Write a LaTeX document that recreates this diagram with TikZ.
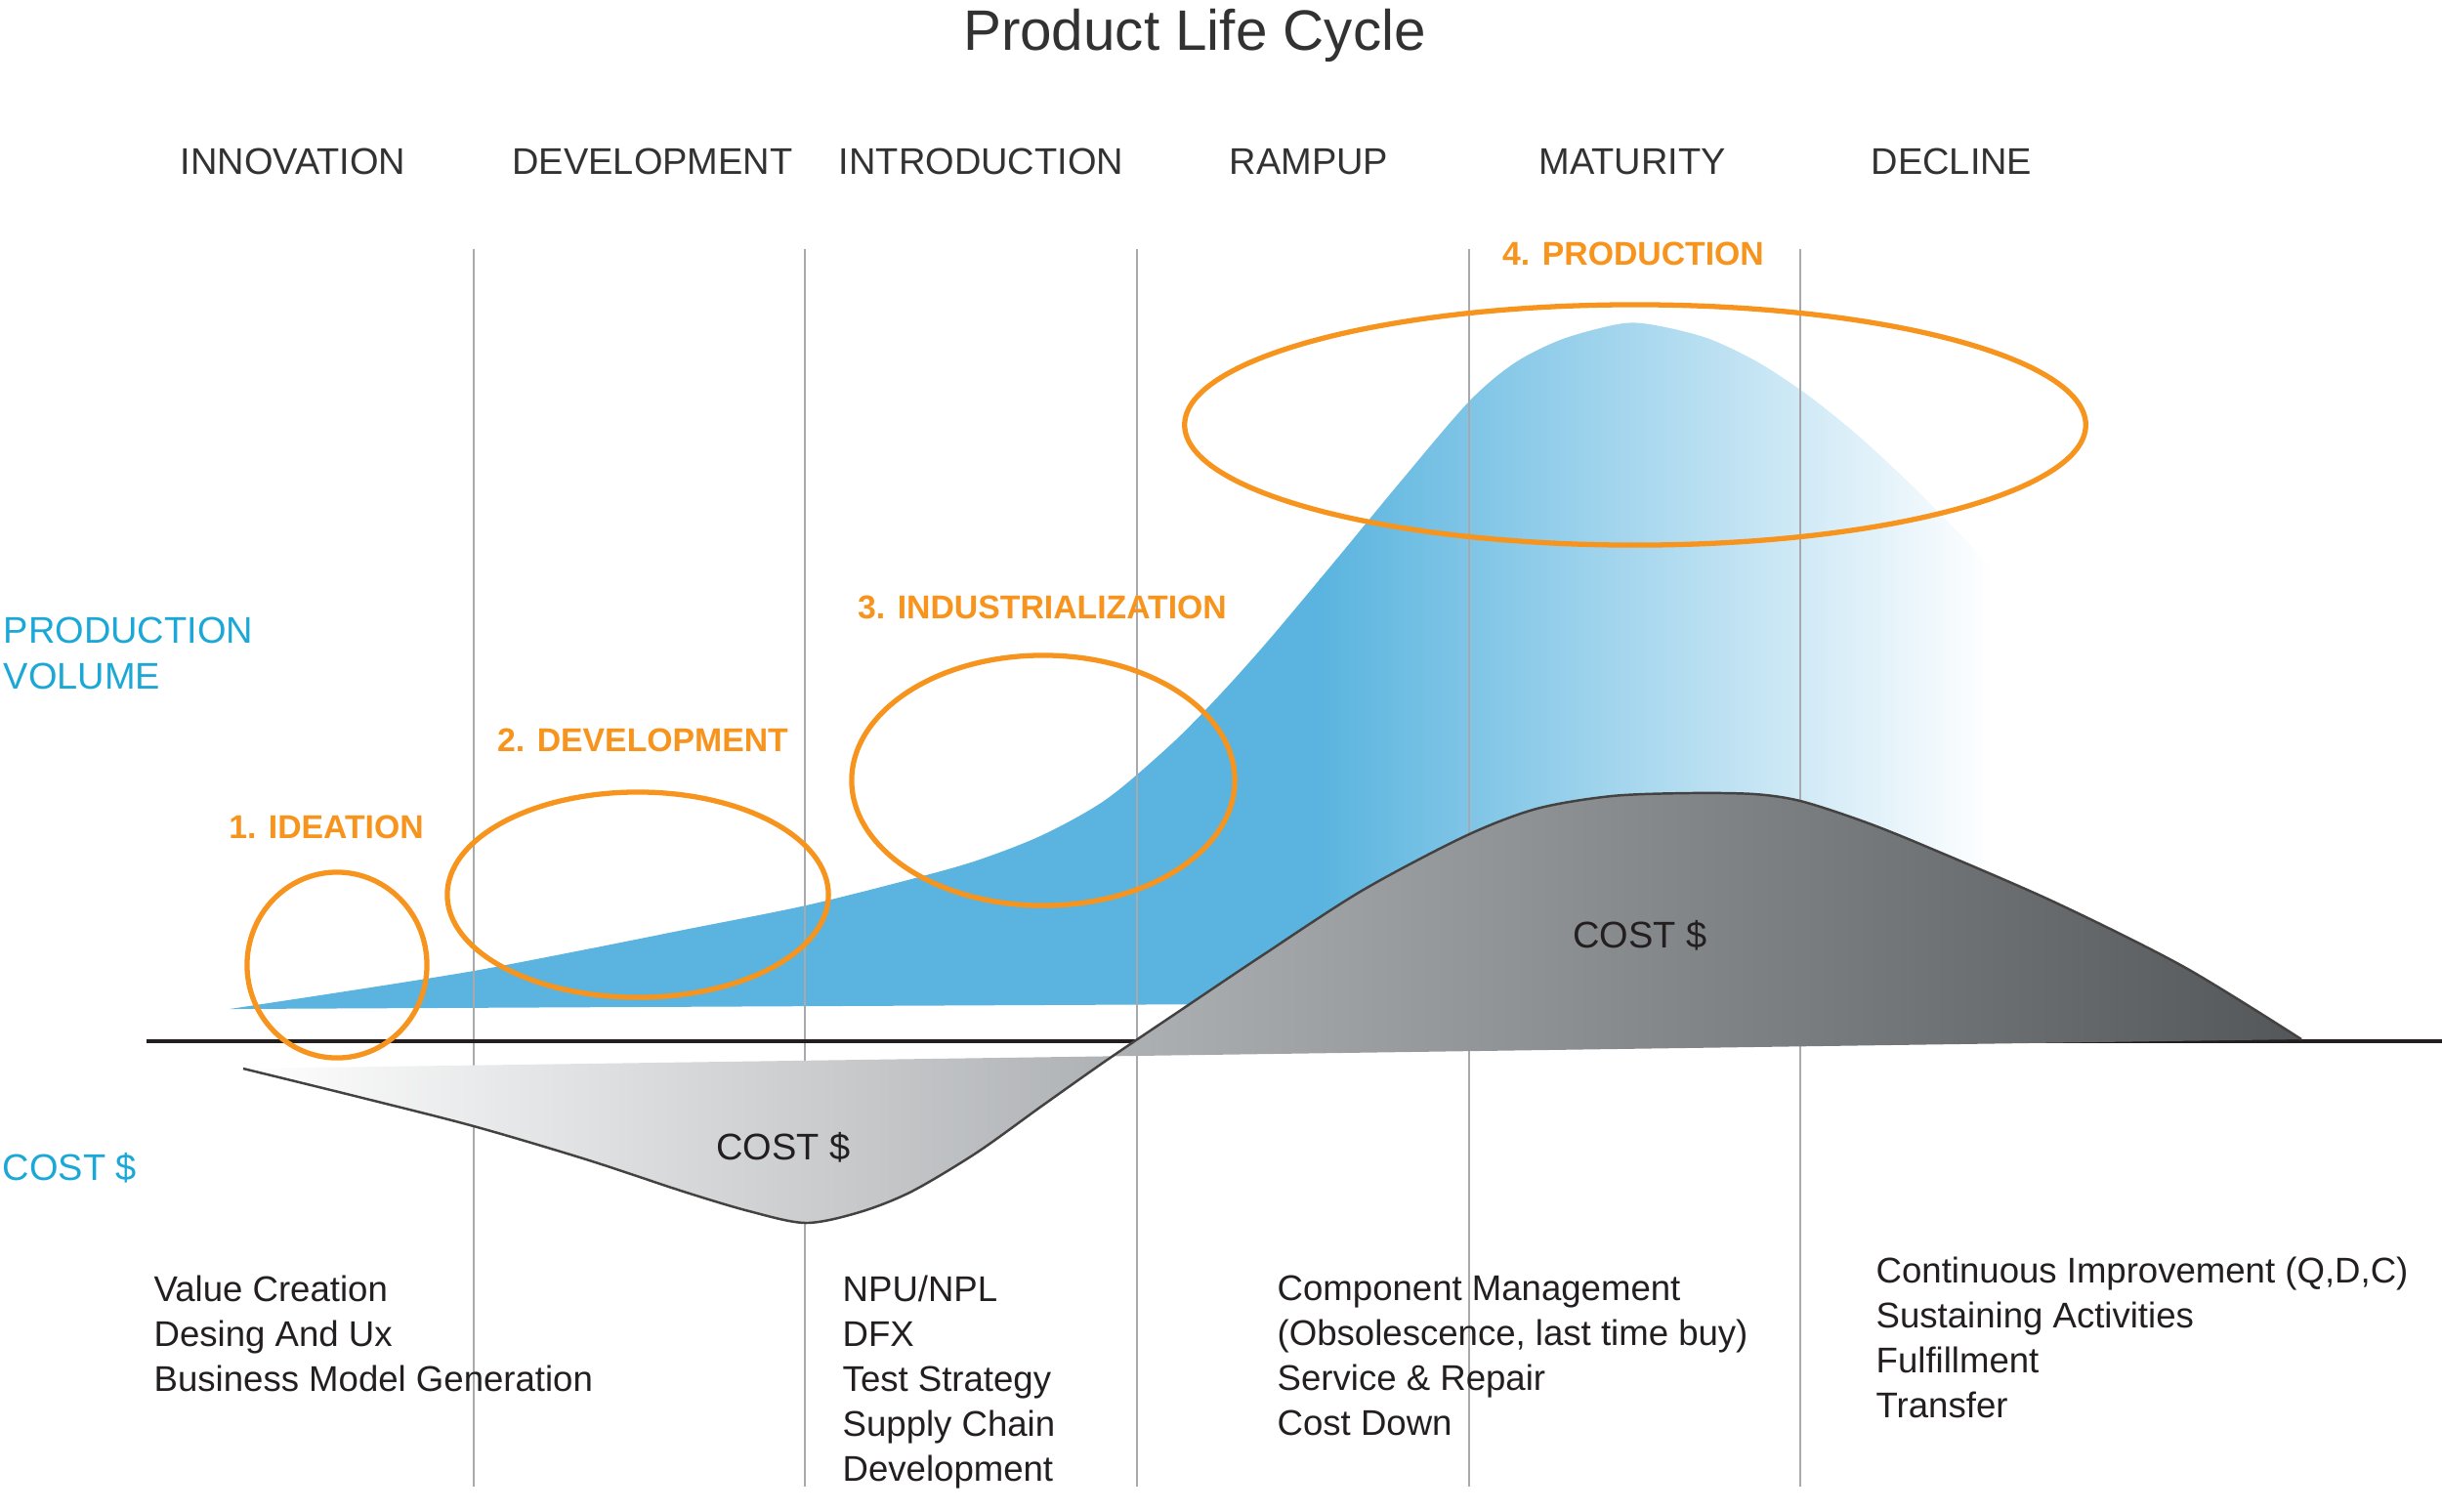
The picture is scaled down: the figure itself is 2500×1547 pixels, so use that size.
\documentclass[tikz,border=0pt]{standalone}
\usepackage{fontspec}
\setmainfont{Liberation Sans}
\definecolor{volblue}{RGB}{90,180,223}
\definecolor{costmid}{RGB}{173,176,179}
\definecolor{costdark}{RGB}{84,87,90}
\definecolor{ringorange}{RGB}{247,148,30}
\definecolor{labelblue}{RGB}{27,168,214}
\definecolor{textdark}{RGB}{35,31,32}
\definecolor{phasegray}{RGB}{50,50,50}
\definecolor{dividergray}{RGB}{167,169,172}
\tikzset{
  title/.style={font=\fontsize{16.6}{20}\selectfont, text=phasegray, anchor=base, inner sep=0pt},
  phase/.style={font=\fontsize{10.8}{13}\selectfont, text=phasegray, anchor=base, inner sep=0pt},
  stage/.style={font=\fontsize{9.6}{12}\selectfont\bfseries, text=ringorange, anchor=base, inner sep=0pt},
  axislabel/.style={font=\fontsize{10.8}{13.4}\selectfont, text=labelblue, align=left, anchor=north west, inner sep=0pt},
  note/.style={font=\fontsize{10.4}{13.1}\selectfont, text=textdark, align=left, anchor=north west, inner sep=0pt},
  costlabel/.style={font=\fontsize{10.8}{13}\selectfont, text=textdark, anchor=base, inner sep=0pt},
  ring/.style={draw=ringorange, line width=1.5pt},
  divider/.style={draw=dividergray, line width=0.45pt},
  costline/.style={draw=textdark!85, line width=0.7pt}
}
\begin{document}
\begin{tikzpicture}[x=0.01cm,y=-0.01cm]
  \useasboundingbox (0,0) rectangle (2500,1547);
  % production volume
  \begin{scope}
    \clip plot[smooth,tension=0.5] coordinates {(235,1033) (360,1014) (485,994) (600,972)
      (700,952) (825,927) (933,900) (1000,881) (1067,855) (1133,818) (1200,761) (1250,710)
      (1300,654) (1367,574) (1433,494) (1503,412) (1550,372) (1600,347) (1662,331) (1700,334)
      (1750,347) (1800,371) (1850,404) (1900,444) (1950,490) (2000,540) (2050,592) (2100,645)}
      -- (2100,1024) -- cycle;
    \fill[volblue] (200,200) rectangle (1352,1100);
    \shade[left color=volblue,right color=white] (1350,200) rectangle (2040,1100);
  \end{scope}
  \foreach \x in {485,824,1164,1504,1843}
    \draw[divider] (\x,255) -- (\x,1522);
  \draw[textdark, line width=1.25pt] (150,1066) -- (2500,1066);
  % cost
  \begin{scope}
    \clip plot[smooth,tension=0.5] coordinates {(249,1094) (367,1123) (485,1153) (600,1187)
      (700,1220) (767,1240) (825,1252) (880,1241) (933,1220) (1000,1180) (1067,1132)
      (1135,1084) (1215,1030) (1291,979) (1394,912) (1500,856) (1573,828) (1650,815)
      (1729,812) (1796,813) (1843,820) (1905,840) (1968,865) (2102,923) (2236,990) (2356,1064)}
      -- cycle;
    \shade[left color=white,right color=costmid] (249,780) rectangle (1159,1260);
    \shade[left color=costmid,right color=costdark] (1157,780) rectangle (2356,1260);
  \end{scope}
  \draw[costline] plot[smooth,tension=0.5] coordinates {(249,1094) (367,1123) (485,1153) (600,1187)
      (700,1220) (767,1240) (825,1252) (880,1241) (933,1220) (1000,1180) (1067,1132)
      (1135,1084) (1215,1030) (1291,979) (1394,912) (1500,856) (1573,828) (1650,815)
      (1729,812) (1796,813) (1843,820) (1905,840) (1968,865) (2102,923) (2236,990) (2356,1064)};
  % stages
  \draw[ring] (345,988) ellipse [x radius=0.92cm, y radius=0.95cm];
  \draw[ring] (653,916) ellipse [x radius=1.95cm, y radius=1.05cm];
  \draw[ring] (1068,799) ellipse [x radius=1.96cm, y radius=1.28cm];
  \draw[ring] (1674,435) ellipse [x radius=4.61cm, y radius=1.23cm];
  \node[stage] (ideation) at (334,858) {1. IDEATION};
  \node[stage] (devstage) at (658,769) {2. DEVELOPMENT};
  \node[stage] (industrial) at (1067,633) {3. INDUSTRIALIZATION};
  \node[stage] (production) at (1672,271) {4. PRODUCTION};
  \node[title] (heading) at (1223,51) {Product Life Cycle};
  \node[phase] (innovation) at (300,178.5) {INNOVATION};
  \node[phase] (development) at (668,178.5) {DEVELOPMENT};
  \node[phase] (introduction) at (1004.5,178.5) {INTRODUCTION};
  \node[phase] (rampup) at (1340,178.5) {RAMPUP};
  \node[phase] (maturity) at (1671,178.5) {MATURITY};
  \node[phase] (decline) at (1998,178.5) {DECLINE};
  \node[axislabel] (volume) at (3,631) {PRODUCTION\\VOLUME};
  \node[axislabel] (costaxis) at (2,1180) {COST \$};
  \node[costlabel] (costlow) at (802,1187.5) {COST \$};
  \node[costlabel] (costhigh) at (1679,970) {COST \$};
  \node[note] (ideanotes) at (157,1305) {Value Creation\\Desing And Ux\\Business Model Generation};
  \node[note] (intronotes) at (862,1305) {NPU/NPL\\DFX\\Test Strategy\\Supply Chain\\Development};
  \node[note] (rampnotes) at (1307,1305) {Component Management\\(Obsolescence, last time buy)\\Service \& Repair\\Cost Down};
  \node[note] (declinenotes) at (1920,1286) {Continuous Improvement (Q,D,C)\\Sustaining Activities\\Fulfillment\\Transfer};
\end{tikzpicture}
\end{document}
